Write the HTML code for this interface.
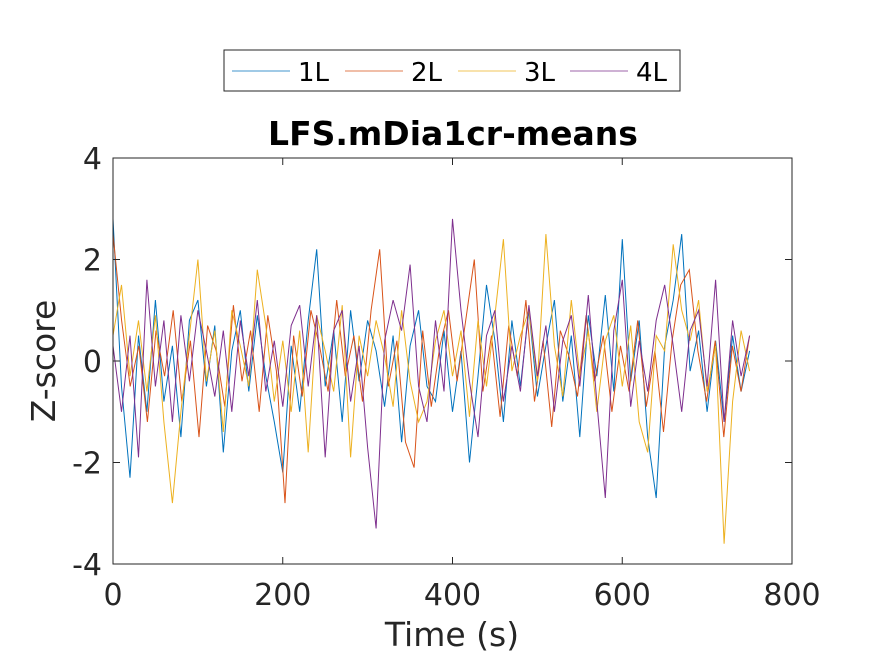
<!DOCTYPE html>
<html><head><meta charset="utf-8">
<style>
body{margin:0;background:#fff;}
svg{display:block;font-family:"DejaVu Sans","Liberation Sans",sans-serif;}
</style></head>
<body>
<svg id="chart" width="875" height="656" viewBox="0 0 875 656">
<rect width="875" height="656" fill="#fff"/>
<g id="lines"></g>
<rect x="113" y="158" width="679" height="406" fill="none" stroke="#262626" stroke-width="1"/>
<g id="axes"></g>
<text x="453" y="145" text-anchor="middle" font-size="33" font-weight="bold" fill="#000">LFS.mDia1cr-means</text>
<text x="452" y="646" text-anchor="middle" font-size="33" fill="#262626">Time (s)</text>
<text transform="translate(55,361) rotate(-90)" text-anchor="middle" font-size="33" fill="#262626">Z-score</text>
<g id="legend">
<rect x="224" y="50" width="456" height="41" fill="#fff" stroke="#262626" stroke-width="1"/>
</g>
</svg>
<script>
const seriesNames = ["1L","2L","3L","4L"];
const seriesColors = ["#0072BD","#D95319","#EDB120","#7E2F8E"];
const xTicks = [0,200,400,600,800];
const yTicks = [-4,-2,0,2,4];
const tMax = 750;
const s1 = [2.8,-0.5,-2.3,0.5,-1.0,1.2,-0.8,0.3,-1.5,0.8,1.2,-0.5,0.7,-1.8,0.2,1.0,-0.6,0.9,-0.3,-1.2,-2.2,0.3,-1.0,0.8,2.2,-0.5,0.6,-1.2,1.0,-0.4,0.8,0.2,-0.9,0.5,-1.6,0.3,1.0,-0.5,-0.8,0.6,-1.0,0.2,-2.0,-0.3,1.5,0.4,-1.2,0.8,-0.5,1.0,-0.7,0.3,1.2,-0.8,0.5,-1.5,0.9,-0.3,1.3,-0.6,2.4,-0.4,0.8,-1.5,-2.7,0.3,1.2,2.5,-0.2,0.6,-1.0,0.4,-1.2,0.5,-0.6,0.2];
const s2 = [2.5,0.8,-0.5,0.3,-1.2,0.6,-0.3,1.0,-0.8,0.4,-1.5,0.7,0.2,-0.9,1.1,-0.4,0.6,-1.0,0.9,-0.2,-2.8,0.5,-0.7,1.0,0.3,-0.6,1.2,-0.3,0.5,-0.8,1.0,2.2,-0.5,0.4,-1.6,-2.1,0.6,-0.9,0.3,1.0,-0.4,0.8,2.0,-0.6,0.5,-1.1,0.7,-0.3,1.2,-0.8,0.4,-1.3,0.6,0.1,-0.7,0.9,-0.4,0.5,-1.0,0.3,-0.6,0.8,-0.9,0.2,-1.4,0.4,1.5,1.8,0.2,-0.8,0.4,-1.5,0.3,-0.6,0.5];
const s3 = [0.5,1.5,-0.3,0.8,-0.6,0.9,-1.2,-2.8,-1.0,0.5,2.0,-0.4,0.6,-1.4,1.0,0.3,-0.5,1.8,0.7,-0.8,0.4,-1.0,0.6,-1.8,0.9,0.2,-0.6,1.1,-1.9,0.5,-0.3,0.8,0.1,-0.9,1.0,-0.4,-1.2,-0.8,0.4,1.0,-0.3,0.6,-1.1,0.8,-0.5,0.9,2.4,-0.2,0.5,1.0,-0.4,2.5,0.3,-0.7,1.2,-0.3,0.6,-1.0,0.4,0.9,-0.5,0.7,-1.2,-1.8,0.5,0.2,2.3,1.0,0.4,1.2,-0.6,0.3,-3.6,-0.8,0.6,-0.2];
const s4 = [0.3,-1.0,0.5,-1.9,1.6,-0.5,0.8,-1.2,0.9,-0.4,1.0,0.2,-0.7,0.6,-1.0,0.8,-0.3,1.2,-0.6,0.4,-0.9,0.7,1.1,-0.5,0.9,-1.9,0.6,1.0,-0.8,0.3,-1.7,-3.3,0.4,1.2,0.6,1.9,-0.5,-1.2,0.8,-0.6,2.8,1.0,-0.4,-1.5,0.5,1.0,-0.8,0.3,-0.6,1.1,-0.3,0.7,-1.0,0.4,0.9,-0.5,1.3,-0.8,-2.7,0.6,1.6,-0.9,0.4,-0.6,0.8,1.5,0.3,-1.0,0.6,1.0,-0.5,1.6,-1.2,0.8,-0.3,0.5];
const allSeries = [s1,s2,s3,s4];

const NS = "http://www.w3.org/2000/svg";
const X0=113,X1=792,Y0=564,Y1=158;
function xs(v){return X0+(v-0)/(800-0)*(X1-X0);}
function ys(v){return Y0-(v-(-4))/(8)*(Y0-Y1);}

const lines = document.getElementById('lines');
allSeries.forEach((s,k)=>{
  const step = tMax/(s.length-1);
  const pts = s.map((v,i)=>xs(i*step).toFixed(1)+","+ys(v).toFixed(1)).join(" ");
  const pl = document.createElementNS(NS,'polyline');
  pl.setAttribute('points',pts);
  pl.setAttribute('fill','none');
  pl.setAttribute('stroke',seriesColors[k]);
  pl.setAttribute('stroke-width','1');
  
  
  lines.appendChild(pl);
});

const axes = document.getElementById('axes');
xTicks.forEach(t=>{
  const x = xs(t);
  const l1 = document.createElementNS(NS,'line');
  l1.setAttribute('x1',x);l1.setAttribute('x2',x);l1.setAttribute('y1',Y0);l1.setAttribute('y2',Y0-7);
  l1.setAttribute('stroke','#262626');
  
  
  axes.appendChild(l1);
  const l2 = document.createElementNS(NS,'line');
  l2.setAttribute('x1',x);l2.setAttribute('x2',x);l2.setAttribute('y1',Y1);l2.setAttribute('y2',Y1+7);
  l2.setAttribute('stroke','#262626');
  
  
  axes.appendChild(l2);
  const tx = document.createElementNS(NS,'text');
  tx.setAttribute('x',x);tx.setAttribute('y',605);
  tx.setAttribute('text-anchor','middle');tx.setAttribute('font-size','30');tx.setAttribute('fill','#262626');
  
  
  tx.textContent = t;
  axes.appendChild(tx);
});
yTicks.forEach(t=>{
  const y = ys(t);
  const l1 = document.createElementNS(NS,'line');
  l1.setAttribute('x1',X0);l1.setAttribute('x2',X0+7);l1.setAttribute('y1',y);l1.setAttribute('y2',y);
  l1.setAttribute('stroke','#262626');
  
  
  axes.appendChild(l1);
  const l2 = document.createElementNS(NS,'line');
  l2.setAttribute('x1',X1);l2.setAttribute('x2',X1-7);l2.setAttribute('y1',y);l2.setAttribute('y2',y);
  l2.setAttribute('stroke','#262626');
  
  
  axes.appendChild(l2);
  const tx = document.createElementNS(NS,'text');
  tx.setAttribute('x',102);tx.setAttribute('y',y+11);
  tx.setAttribute('text-anchor','end');tx.setAttribute('font-size','30');tx.setAttribute('fill','#262626');
  
  
  tx.textContent = t;
  axes.appendChild(tx);
});

const legend = document.getElementById('legend');
const legX = [232,345,458,570];
seriesNames.forEach((n,k)=>{
  const g = document.createElementNS(NS,'g');
  
  
  const l = document.createElementNS(NS,'line');
  l.setAttribute('x1',legX[k]);l.setAttribute('x2',legX[k]+58);l.setAttribute('y1',71);l.setAttribute('y2',71);
  l.setAttribute('stroke',seriesColors[k]);
  l.setAttribute('stroke-width','0.7');
  
  
  g.appendChild(l);
  const t = document.createElementNS(NS,'text');
  t.setAttribute('x',legX[k]+66);t.setAttribute('y',81);
  t.setAttribute('font-size','26');t.setAttribute('fill','#000');
  
  
  t.textContent = n;
  g.appendChild(t);
  legend.appendChild(g);
});
</script>
</body></html>
